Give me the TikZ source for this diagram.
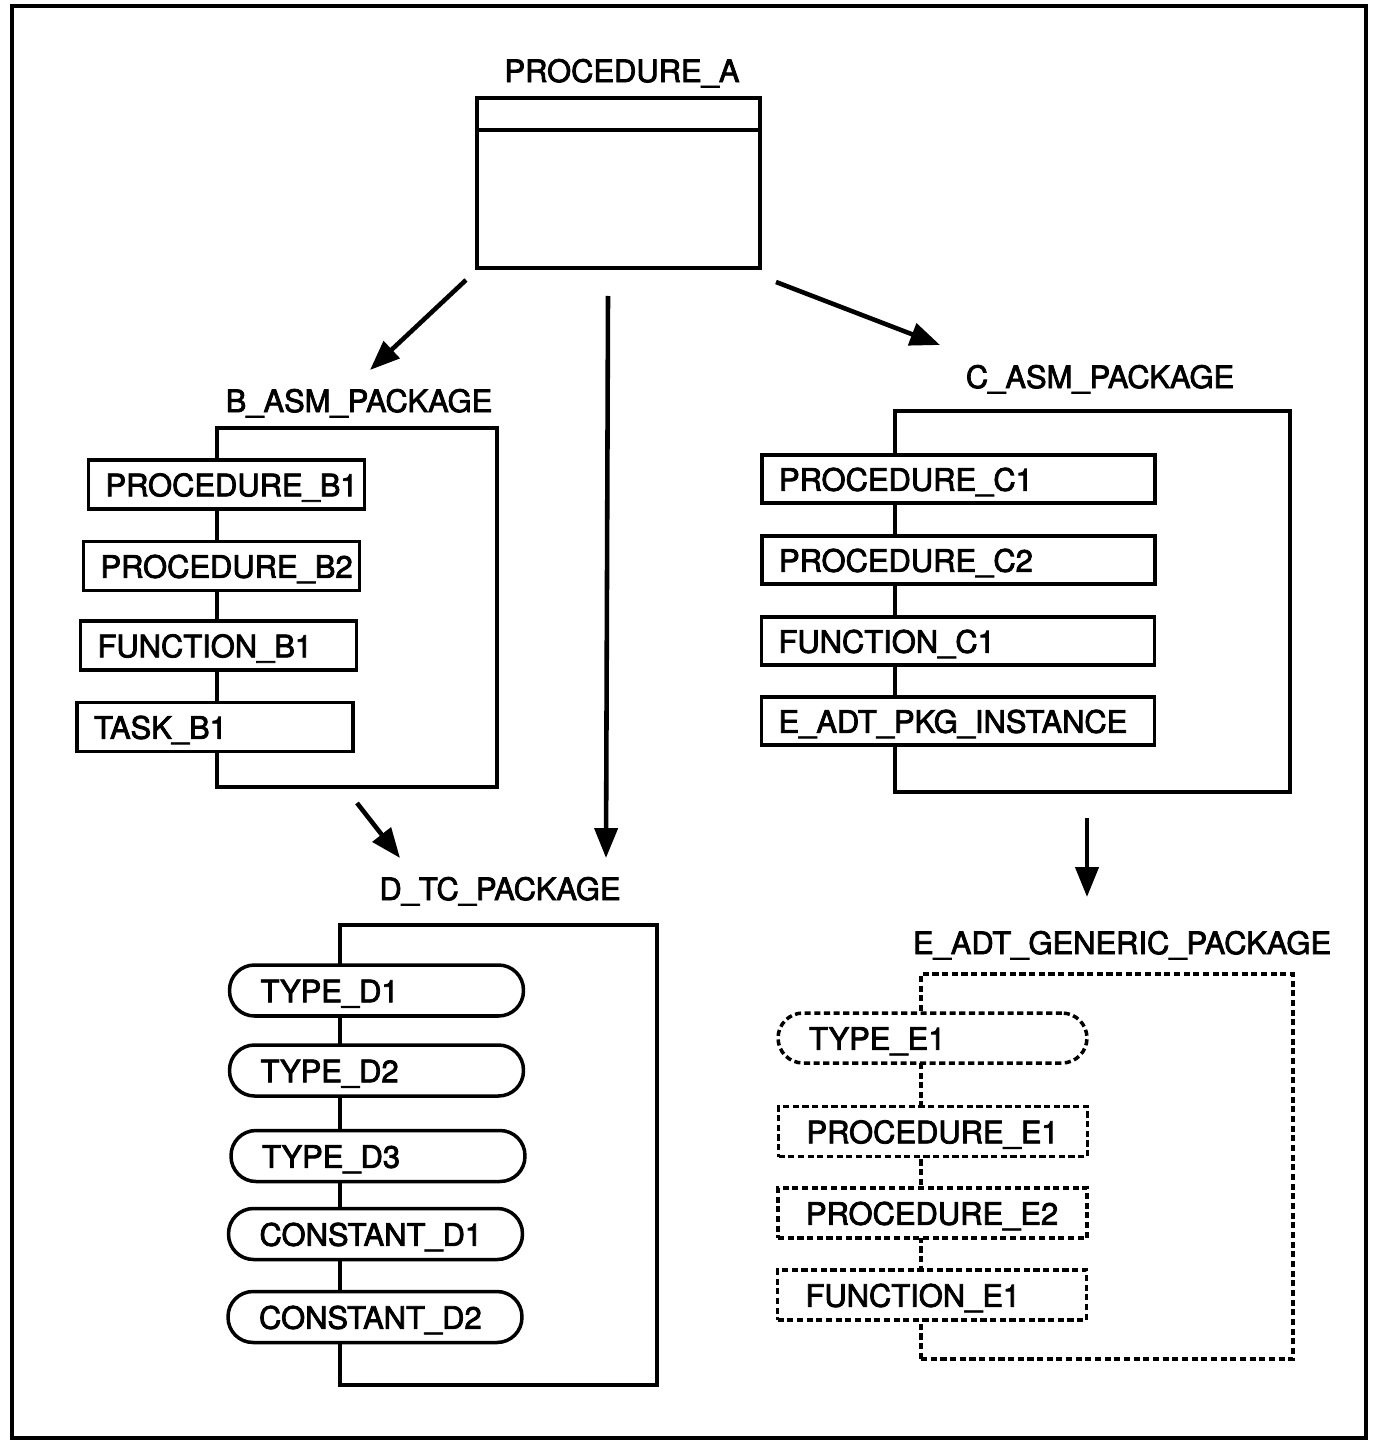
\documentclass[tikz,border=0pt]{standalone}
\usepackage{fontspec}
\setmainfont{TeX Gyre Heros}[FakeBold=2.5]
\usepackage{tikz}
\usetikzlibrary{arrows.meta}
\uchyph=0
\hyphenpenalty=10000

\tikzset{
    pkg/.style={draw, line width=2pt, inner sep=0pt},
    unit/.style={draw, fill=white, line width=2pt, inner xsep=0.34cm, inner ysep=0pt, align=left, text height=13.4pt, text depth=0pt},
    typeunit/.style={unit, rounded corners=0.5cm, inner xsep=0.62cm},
    generic/.style={dash pattern=on 3.5pt off 2pt},
    title/.style={inner sep=0pt, text height=12.6pt, text depth=0pt},
    arr/.style={line width=2.6pt, -{Triangle[length=17pt,width=13pt]}}
}

\begin{document}
\begin{tikzpicture}[x=0.02cm, y=-0.02cm, font=\fontsize{17.6}{21}\selectfont]
    \useasboundingbox (0,0) rectangle (1376,1442);
    \draw[line width=2.4pt] (12,6) rectangle (1366,1438);

    % Procedure A
    \node[title] (procAlabel) at (622,71) {PROCEDURE\_A};
    \node[pkg, minimum width=5.66cm, minimum height=3.4cm] (procA) at (618.5,183) {};
    \draw[line width=2pt] ([yshift=-0.68cm]procA.north west) -- ([yshift=-0.68cm]procA.north east);

    % B_ASM_PACKAGE
    \node[title] (bpkglabel) at (359,401) {B\_ASM\_PACKAGE};
    \node[pkg, minimum width=5.6cm, minimum height=7.18cm] (bpkg) at (357,607.5) {};
    \node[unit, text width=4.84cm, minimum height=0.98cm] (procB1) at (226.5,484.5) {PROCEDURE\_B1};
    \node[unit, text width=4.84cm, minimum height=0.98cm] (procB2) at (221.5,566) {PROCEDURE\_B2};
    \node[unit, text width=4.84cm, minimum height=0.98cm] (funcB1) at (218.5,645.5) {FUNCTION\_B1};
    \node[unit, text width=4.84cm, minimum height=0.98cm] (taskB1) at (215,727) {TASK\_B1};

    % C_ASM_PACKAGE
    \node[title] (cpkglabel) at (1100,377) {C\_ASM\_PACKAGE};
    \node[pkg, minimum width=7.9cm, minimum height=7.62cm] (cpkg) at (1092.5,601.5) {};
    \node[unit, text width=7.18cm, minimum height=0.96cm] (procC1) at (958.5,479) {PROCEDURE\_C1};
    \node[unit, text width=7.18cm, minimum height=0.96cm] (procC2) at (958.5,560) {PROCEDURE\_C2};
    \node[unit, text width=7.18cm, minimum height=0.96cm] (funcC1) at (958,641) {FUNCTION\_C1};
    \node[unit, text width=7.18cm, minimum height=0.96cm] (inst) at (958,721) {E\_ADT\_PKG\_INSTANCE};

    % D_TC_PACKAGE
    \node[title] (dpkglabel) at (500,889) {D\_TC\_PACKAGE};
    \node[pkg, minimum width=6.34cm, minimum height=9.2cm] (dpkg) at (498.5,1155) {};
    \node[typeunit, text width=4.64cm, minimum height=1.02cm] (typeD1) at (376.5,990.5) {TYPE\_D1};
    \node[typeunit, text width=4.64cm, minimum height=1.02cm] (typeD2) at (376.5,1070.5) {TYPE\_D2};
    \node[typeunit, text width=4.64cm, minimum height=1.02cm] (typeD3) at (378,1156) {TYPE\_D3};
    \node[typeunit, text width=4.64cm, minimum height=1.02cm] (constD1) at (375.5,1234) {CONSTANT\_D1};
    \node[typeunit, text width=4.64cm, minimum height=1.02cm] (constD2) at (375,1317) {CONSTANT\_D2};

    % E_ADT_GENERIC_PACKAGE (dashed)
    \node[title] (epkglabel) at (1122,943) {E\_ADT\_GENERIC\_PACKAGE};
    \node[pkg, generic, minimum width=7.44cm, minimum height=7.7cm] (epkg) at (1107,1166.5) {};
    \node[typeunit, generic, text width=4.94cm, minimum height=1cm] (typeE1) at (932.5,1038) {TYPE\_E1};
    \node[unit, generic, inner xsep=0.56cm, text width=5.06cm, minimum height=1cm] (procE1) at (933,1131.5) {PROCEDURE\_E1};
    \node[unit, generic, inner xsep=0.56cm, text width=5.06cm, minimum height=1cm] (procE2) at (932.5,1213) {PROCEDURE\_E2};
    \node[unit, generic, inner xsep=0.56cm, text width=5.06cm, minimum height=1cm] (funcE1) at (932,1295) {FUNCTION\_E1};

    % arrows
    \coordinate (toBtail) at (466,280);
    \coordinate (toBhead) at (370,370);
    \coordinate (toDtail) at (608,296);
    \coordinate (toDhead) at (606,858);
    \coordinate (toCtail) at (776,282);
    \coordinate (toChead) at (940,345);
    \coordinate (BtoDtail) at (357,803);
    \coordinate (BtoDhead) at (400,858);
    \coordinate (CtoEtail) at (1087,818);
    \coordinate (CtoEhead) at (1087,897);
    \draw[arr] (toBtail) -- (toBhead);
    \draw[arr] (toDtail) -- (toDhead);
    \draw[arr] (toCtail) -- (toChead);
    \draw[arr] (BtoDtail) -- (BtoDhead);
    \draw[arr] (CtoEtail) -- (CtoEhead);
\end{tikzpicture}
\end{document}
